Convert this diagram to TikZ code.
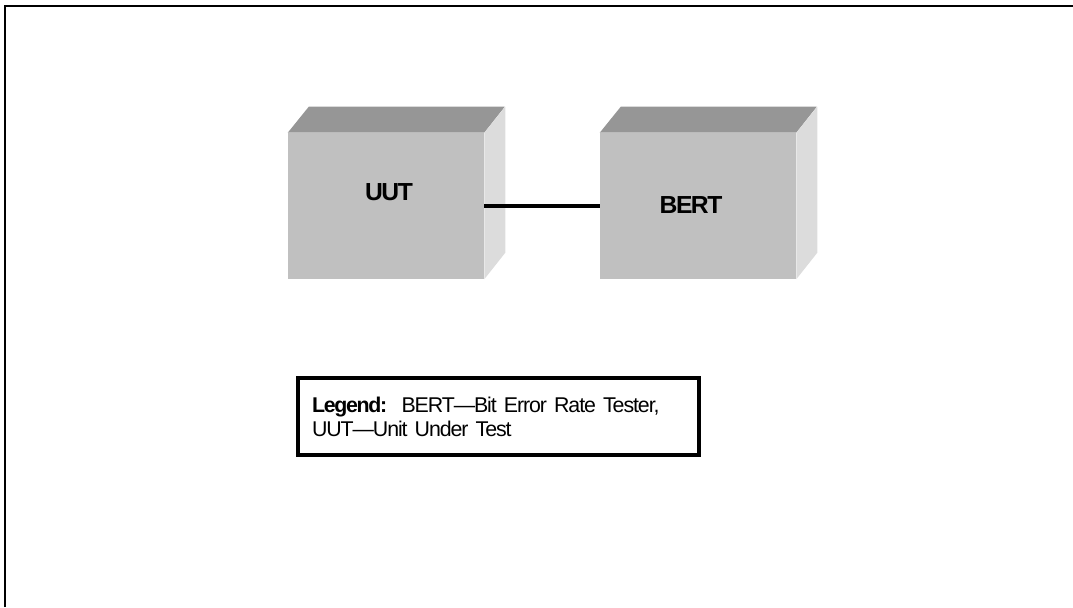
\documentclass[tikz,border=0pt]{standalone}
\usepackage{fontspec}
\setmainfont{Liberation Sans}
\newfontfamily\tightbold[LetterSpace=-6]{Liberation Sans}
\newfontfamily\tightreg[LetterSpace=-5]{Liberation Sans}
\definecolor{frontgray}{RGB}{192,192,192}
\definecolor{topgray}{RGB}{150,150,150}
\definecolor{sidegray}{RGB}{220,220,220}
\begin{document}
\begin{tikzpicture}[x=0.75pt,y=-0.75pt,
  front/.style={fill=frontgray, draw=none, minimum width=196*0.75pt, minimum height=146*0.75pt, inner sep=0pt},
  boxlabel/.style={font=\tightbold\bfseries\fontsize{18.5}{20}\selectfont},
  link/.style={line width=3.6pt},
  frameline/.style={line width=1.8pt},
  legendbox/.style={draw, line width=2.6pt, minimum width=401*0.75pt, minimum height=77*0.75pt, inner xsep=14*0.75pt, text width=373*0.75pt, align=left, font=\tightreg\fontsize{16}{18}\selectfont}
]
\useasboundingbox (0,0) rectangle (1073,607);
\draw[frameline] (5,607) -- (5,6) -- (1073,6);
% UUT box
\node[front] (uut) at (386,206) {};
\fill[topgray] (uut.north west) -- ++(21,-26) -- ++(196,0) -- (uut.north east) -- cycle;
\fill[sidegray] (uut.north east) -- ++(21,-26) -- ++(0,146) -- (uut.south east) -- cycle;
\node[boxlabel] (uutl) at (389,192) {UUT};
% BERT box
\node[front] (bert) at (698,206) {};
\fill[topgray] (bert.north west) -- ++(21,-26) -- ++(196,0) -- (bert.north east) -- cycle;
\fill[sidegray] (bert.north east) -- ++(21,-26) -- ++(0,146) -- (bert.south east) -- cycle;
\node[boxlabel] (bertl) at (691,205) {BERT};
% connector
\draw[link] (uut.east) -- (bert.west);
% legend
\node[legendbox] (legend) at (498.5,416.5) {{\tightbold\bfseries Legend:}\ \ BERT—Bit Error Rate Tester,\\UUT—Unit Under Test};
\end{tikzpicture}
\end{document}
